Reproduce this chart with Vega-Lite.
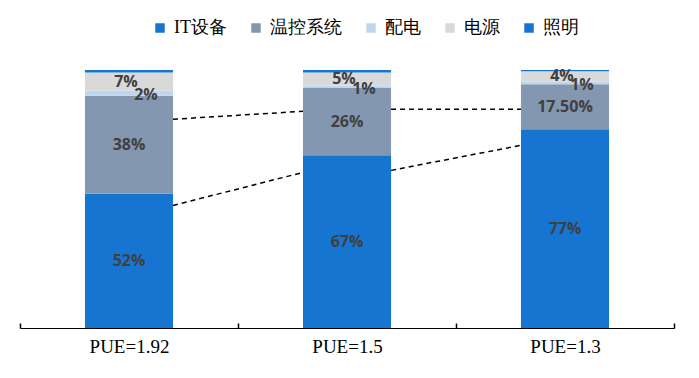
{
  "$schema": "https://vega.github.io/schema/vega-lite/v6.json",
  "width": 654,
  "height": 258,
  "autosize": {"type": "none"},
  "padding": {"left": 20, "top": 70, "right": 25, "bottom": 50},
  "background": "white",
  "config": {"view": {"stroke": null}},
  "datasets": {
    "shares": [
      {"pue": "PUE=1.92", "series": "IT设备", "order": 1, "value": 52, "label": "52%"},
      {"pue": "PUE=1.92", "series": "温控系统", "order": 2, "value": 38, "label": "38%"},
      {"pue": "PUE=1.92", "series": "配电", "order": 3, "value": 2, "label": "2%"},
      {"pue": "PUE=1.92", "series": "电源", "order": 4, "value": 7, "label": "7%"},
      {"pue": "PUE=1.92", "series": "照明", "order": 5, "value": 1, "label": ""},
      {"pue": "PUE=1.5", "series": "IT设备", "order": 1, "value": 67, "label": "67%"},
      {"pue": "PUE=1.5", "series": "温控系统", "order": 2, "value": 26, "label": "26%"},
      {"pue": "PUE=1.5", "series": "配电", "order": 3, "value": 1, "label": "1%"},
      {"pue": "PUE=1.5", "series": "电源", "order": 4, "value": 5, "label": "5%"},
      {"pue": "PUE=1.5", "series": "照明", "order": 5, "value": 1, "label": ""},
      {"pue": "PUE=1.3", "series": "IT设备", "order": 1, "value": 77, "label": "77%"},
      {"pue": "PUE=1.3", "series": "温控系统", "order": 2, "value": 17.5, "label": "17.50%"},
      {"pue": "PUE=1.3", "series": "配电", "order": 3, "value": 1, "label": "1%"},
      {"pue": "PUE=1.3", "series": "电源", "order": 4, "value": 4, "label": "4%"},
      {"pue": "PUE=1.3", "series": "照明", "order": 5, "value": 0.5, "label": ""}
    ],
    "lines": [
      {"from": "PUE=1.92", "to": "PUE=1.5", "ya": 80.9, "yb": 84.0},
      {"from": "PUE=1.92", "to": "PUE=1.5", "ya": 47.5, "yb": 60.3},
      {"from": "PUE=1.5", "to": "PUE=1.3", "ya": 84.8, "yb": 84.8},
      {"from": "PUE=1.5", "to": "PUE=1.3", "ya": 61.1, "yb": 70.8}
    ]
  },
  "layer": [
    {
      "data": {"name": "shares"},
      "transform": [
        {"stack": "value", "groupby": ["pue"], "sort": [{"field": "order", "order": "ascending"}], "as": ["y0", "y1"]},
        {"calculate": "(datum.y0 + datum.y1) / 2", "as": "ymid"}
      ],
      "layer": [
        {
          "mark": {"type": "bar", "width": {"band": 0.404}},
          "encoding": {
            "x": {
              "field": "pue", "type": "nominal",
              "scale": {"domain": ["PUE=1.92", "PUE=1.5", "PUE=1.3"], "paddingInner": 0, "paddingOuter": 0},
              "axis": {
                "title": null, "labelAngle": 0, "tickBand": "extent", "tickSize": -5,
                "tickColor": "black", "tickWidth": 1.5, "domainColor": "black", "domainWidth": 1.2,
                "labelFont": "Liberation Serif", "labelFontSize": 19, "labelColor": "black",
                "labelPadding": 14
              }
            },
            "y": {"field": "y0", "type": "quantitative", "scale": {"domain": [0, 100]}, "axis": null},
            "y2": {"field": "y1"},
            "color": {
              "field": "series", "type": "nominal",
              "scale": {
                "domain": ["IT设备", "温控系统", "配电", "电源", "照明"],
                "range": ["#1775D2", "#8497B0", "#BDD7EE", "#D9D9D9", "#1775D2"]
              },
              "legend": {
                "orient": "none", "legendX": 131, "legendY": -51, "direction": "horizontal",
                "title": null, "symbolType": "square", "symbolSize": 90, "symbolStrokeWidth": 0,
                "labelFont": "Liberation Serif", "labelFontSize": 18, "labelColor": "black",
                "columnPadding": 20, "labelOffset": 5
              }
            }
          }
        },
        {
          "transform": [{"filter": "datum.series === 'IT设备' || datum.series === '温控系统'"}],
          "mark": {"type": "text", "font": "Open Sans", "fontWeight": "bold", "fontSize": 16, "color": "#404040", "baseline": "middle"},
          "encoding": {
            "x": {"field": "pue", "type": "nominal"},
            "y": {"field": "ymid", "type": "quantitative"},
            "text": {"field": "label"}
          }
        },
        {
          "transform": [{"filter": "datum.series === '电源'"}],
          "mark": {"type": "text", "font": "Open Sans", "fontWeight": "bold", "fontSize": 16, "color": "#404040", "baseline": "middle", "dx": -3},
          "encoding": {
            "x": {"field": "pue", "type": "nominal"},
            "y": {"field": "ymid", "type": "quantitative"},
            "text": {"field": "label"}
          }
        },
        {
          "transform": [{"filter": "datum.series === '配电'"}],
          "mark": {"type": "text", "font": "Open Sans", "fontWeight": "bold", "fontSize": 16, "color": "#404040", "baseline": "middle", "dx": 17, "dy": 2},
          "encoding": {
            "x": {"field": "pue", "type": "nominal"},
            "y": {"field": "ymid", "type": "quantitative"},
            "text": {"field": "label"}
          }
        }
      ]
    },
    {
      "data": {"name": "lines"},
      "mark": {"type": "rule", "color": "black", "strokeDash": [5, 4], "strokeWidth": 1.5},
      "encoding": {
        "x": {"field": "from", "type": "nominal", "bandPosition": 0.702},
        "x2": {"field": "to", "bandPosition": 0.298},
        "y": {"field": "ya", "type": "quantitative"},
        "y2": {"field": "yb"}
      }
    }
  ]
}
